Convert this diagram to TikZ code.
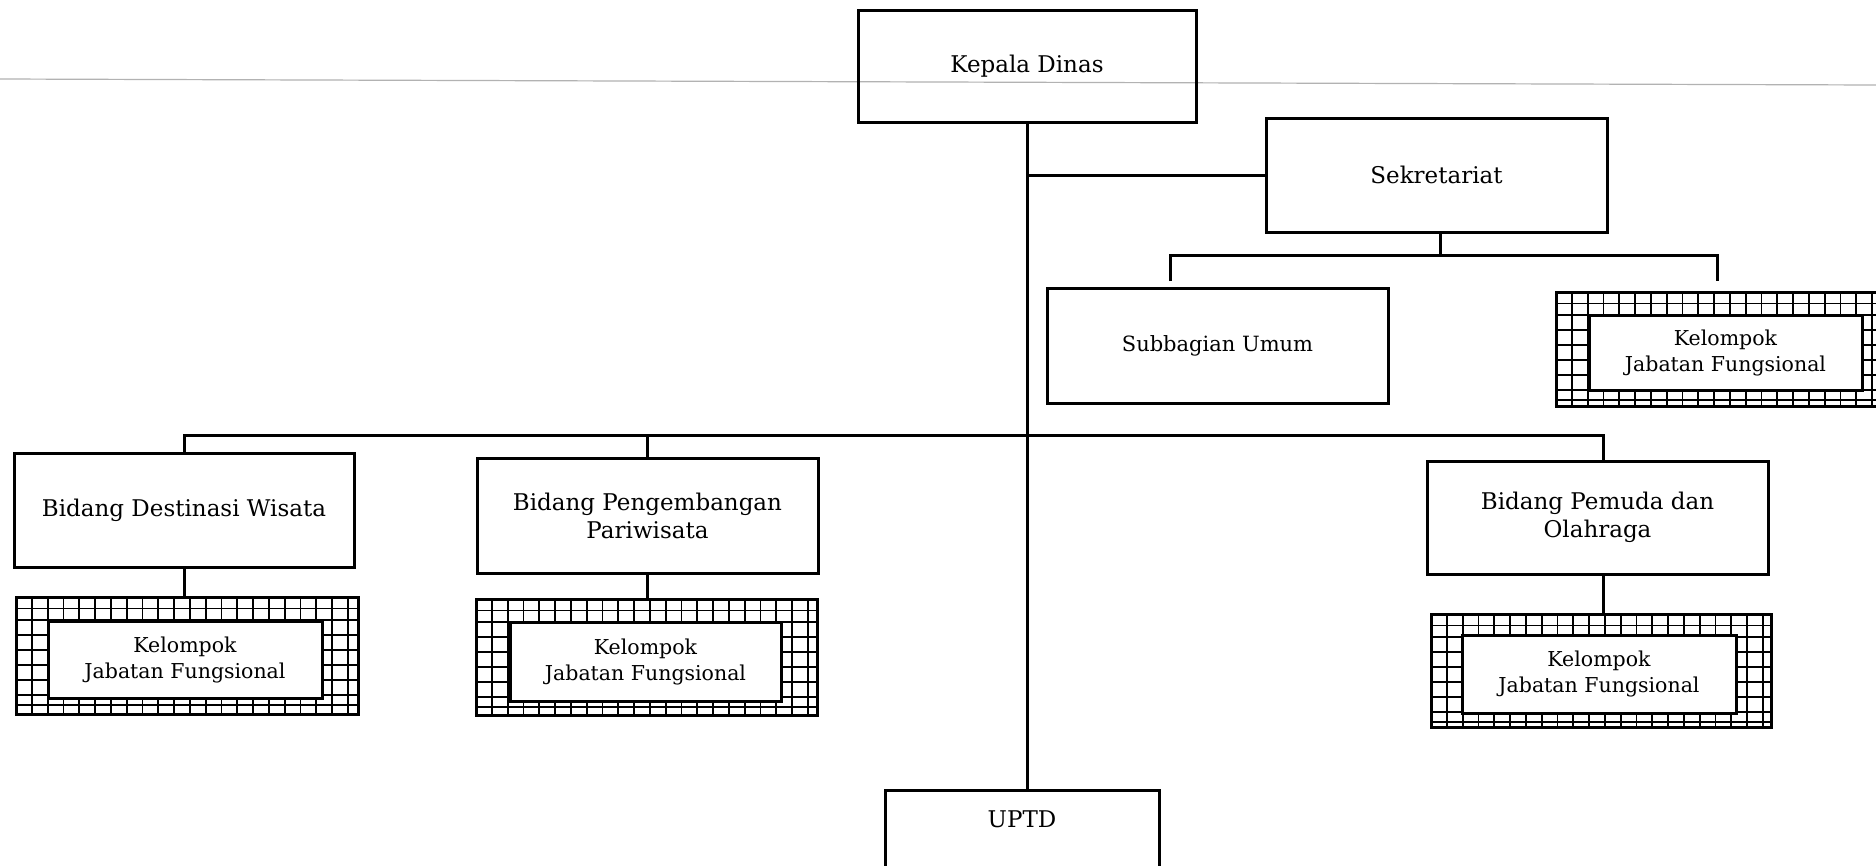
\documentclass[tikz,border=0pt]{standalone}
\usepackage{fontspec}
\setmainfont{DejaVu Serif}
\begin{document}
\tikzset{
 box/.style={draw, line width=3pt, minimum width=341pt, minimum height=114pt, inner sep=0pt, align=center, font=\fontsize{23}{28}\selectfont},
 gridframe/.style={inner sep=0pt, outer sep=0pt},
 frameline/.style={line width=3pt},
 gridline/.style={line width=1.8pt},
 kjf/.style={draw, fill=white, line width=3pt, minimum width=274pt, minimum height=77pt, inner sep=0pt, align=center, font=\fontsize{20.5}{26}\selectfont},
 conn/.style={line width=3pt},
}
\newcommand\gridfor[1]{%
 \begin{scope}
 \clip (#1.north west) rectangle (#1.south east);
 \foreach \k in {1,...,24} \draw[gridline] ([xshift=\k*15.8pt]#1.north west) -- ([xshift=\k*15.8pt]#1.south west);
 \foreach \k in {11.5,23,38,53,68,83,98,108} \draw[gridline] ([yshift=-\k pt]#1.north west) -- ([yshift=-\k pt]#1.north east);
 \end{scope}
 \draw[frameline] (#1.north west) rectangle (#1.south east);}
\begin{tikzpicture}[x=1pt,y=-1pt]
\useasboundingbox (0,0) rectangle (1876,865);
\fill[white] (0,0) rectangle (1876,865);
\draw[gray!60, line width=1.2pt] (0,79) -- (1876,85);
% boxes
\node[box, minimum width=338pt, minimum height=112pt] (kepala) at (1027,66) {Kepala Dinas};
\node[box] (sek) at (1436.5,175) {Sekretariat};
\node[box, minimum height=115pt, font=\fontsize{21}{26}\selectfont] (sub) at (1217.5,346) {Subbagian Umum};
\node[gridframe, minimum width=334pt, minimum height=114pt] (f0) at (1723,349) {};
\gridfor{f0}
\node[kjf, minimum width=273pt, minimum height=75pt] (k0) at (1725.5,352.5) {Kelompok\\Jabatan Fungsional};
\node[box, minimum width=340pt] (bid1) at (184,510) {Bidang Destinasi Wisata};
\node[gridframe, minimum width=342pt, minimum height=117pt] (f1) at (187,655.5) {};
\gridfor{f1}
\node[kjf] (k1) at (185,659.5) {Kelompok\\Jabatan Fungsional};
\node[box, minimum height=115pt] (bid2) at (647.5,515.5) {Bidang Pengembangan\\Pariwisata};
\node[gridframe, minimum width=341pt, minimum height=116pt] (f2) at (646.5,657) {};
\gridfor{f2}
\node[kjf, minimum width=271pt, minimum height=79pt] (k2) at (645.5,661.5) {Kelompok\\Jabatan Fungsional};
\node[box, minimum height=113pt] (bid3) at (1597.5,517.5) {Bidang Pemuda dan\\Olahraga};
\node[gridframe, minimum width=340pt, minimum height=113pt] (f3) at (1601,670.5) {};
\gridfor{f3}
\node[kjf, minimum height=78pt] (k3) at (1599,674) {Kelompok\\Jabatan Fungsional};
\node[box, minimum width=274pt, minimum height=0pt, anchor=north, text height=37pt, text depth=110pt] (uptd) at (1022,789) {UPTD};
% connectors
\draw[conn] (kepala.south) -- (kepala.south |- uptd.north);
\draw[conn] (kepala.south |- sek.west) -- (sek.west);
\coordinate (sbus) at (1440,255);
\coordinate (sbL) at (1170,281);
\coordinate (sbR) at (1717,281);
\draw[conn] (sbus |- sek.south) -- (sbus);
\draw[conn] (sbL) |- (sbus) -| (sbR);
\coordinate (mbus) at (1027,435);
\draw[conn] (bid1.north) |- (mbus);
\draw[conn] ([xshift=6pt]bid3.north) |- (mbus);
\draw[conn] (bid2.north) -- (bid2.north |- mbus);
\draw[conn] (bid1.south) -- (bid1.south |- f1.north);
\draw[conn] (bid2.south) -- (bid2.south |- f2.north);
\draw[conn] ([xshift=6pt]bid3.south) -- ([xshift=6pt]bid3.south |- f3.north);
\end{tikzpicture}
\end{document}
